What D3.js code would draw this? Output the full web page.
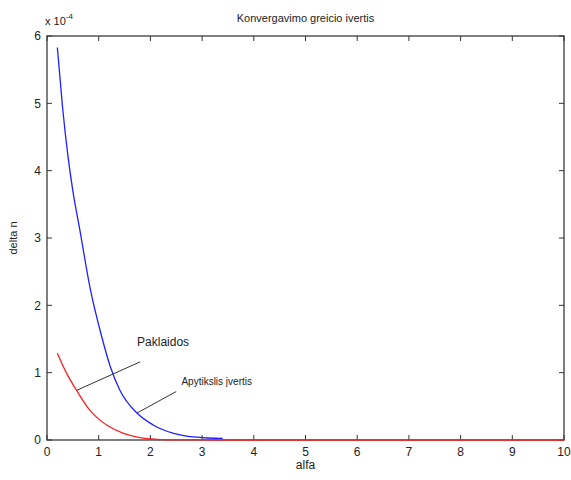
<!DOCTYPE html>
<html>
<head>
<meta charset="utf-8">
<script src="https://cdn.jsdelivr.net/npm/d3@7"></script>
<style>
  body { margin: 0; background: #fff; }
  text { font-family: "Liberation Sans", Arial, sans-serif; fill: #222; }
</style>
</head>
<body>
<div id="chart"></div>
<script>
// values (y in units of 1e-4)
const alfaBlue = [0.2, 0.3, 0.4, 0.5, 0.64, 0.83, 1.06, 1.22, 1.41, 1.74, 2.06, 2.45, 2.84, 3.1, 3.4];
const apytikslis = [5.83, 4.95, 4.25, 3.7, 3.1, 2.27, 1.53, 1.1, 0.74, 0.40, 0.22, 0.10, 0.045, 0.03, 0.025];
const alfaRed = [0.2, 0.38, 0.57, 0.83, 1.0, 1.16, 1.48, 1.8, 2.0, 2.2, 2.5, 3, 4, 5, 6, 7, 8, 9, 10];
const paklaidos = [1.29, 0.99, 0.74, 0.44, 0.31, 0.22, 0.10, 0.035, 0.015, 0.006, 0.002, 0.001, 0, 0, 0, 0, 0, 0, 0];
const xTicks = [0, 1, 2, 3, 4, 5, 6, 7, 8, 9, 10];
const yTicks = [0, 1, 2, 3, 4, 5, 6];

const width = 571, height = 480;
const margin = { top: 36, right: 7, bottom: 40, left: 47 };

const svg = d3.select('#chart').append('svg')
    .attr('width', width)
    .attr('height', height);

const x = d3.scaleLinear().domain([0, 10]).range([margin.left, width - margin.right]);
const y = d3.scaleLinear().domain([0, 6]).range([height - margin.bottom, margin.top]);

// plot box
svg.append('rect')
    .attr('x', x(0)).attr('y', y(6))
    .attr('width', x(10) - x(0)).attr('height', y(0) - y(6))
    .style('fill', 'none').style('stroke', '#555').style('stroke-width', 1.5);

// ticks pointing inward on all sides
const tickLen = 5;
xTicks.forEach(t => {
    svg.append('line').attr('x1', x(t)).attr('x2', x(t))
        .attr('y1', y(0)).attr('y2', y(0) - tickLen)
        .style('stroke', '#333');
    svg.append('line').attr('x1', x(t)).attr('x2', x(t))
        .attr('y1', y(6)).attr('y2', y(6) + tickLen)
        .style('stroke', '#333');
    svg.append('text')
        .attr('x', x(t)).attr('y', y(0) + 16)
        .attr('text-anchor', 'middle')
        .style('font-size', '12px')
        .text(t);
});
yTicks.forEach(t => {
    svg.append('line').attr('x1', x(0)).attr('x2', x(0) + tickLen)
        .attr('y1', y(t)).attr('y2', y(t))
        .style('stroke', '#333');
    svg.append('line').attr('x1', x(10)).attr('x2', x(10) - tickLen)
        .attr('y1', y(t)).attr('y2', y(t))
        .style('stroke', '#333');
    svg.append('text')
        .attr('x', x(0) - 6).attr('y', y(t))
        .attr('dy', '0.35em')
        .attr('text-anchor', 'end')
        .style('font-size', '12px')
        .text(t);
});

// exponent label
const expo = svg.append('text')
    .attr('x', x(0) - 2).attr('y', y(6) - 11)
    .style('font-size', '11px');
expo.append('tspan').text('x 10');
expo.append('tspan').attr('dy', -6).style('font-size', '8px').text('-4');

// title and axis labels
svg.append('text')
    .attr('x', (x(0) + x(10)) / 2).attr('y', 22)
    .attr('text-anchor', 'middle')
    .style('font-size', '11px')
    .text('Konvergavimo greicio ivertis');

svg.append('text')
    .attr('x', (x(0) + x(10)) / 2).attr('y', 469)
    .attr('text-anchor', 'middle')
    .style('font-size', '12px')
    .text('alfa');

svg.append('text')
    .attr('transform', `translate(17, ${(y(0) + y(6)) / 2}) rotate(-90)`)
    .attr('text-anchor', 'middle')
    .style('font-size', '11px')
    .text('delta n');

// curves
const line = d3.line().curve(d3.curveMonotoneX).x(d => x(d[0])).y(d => y(d[1]));

svg.append('path')
    .datum(alfaRed.map((a, i) => [a, paklaidos[i]]))
    .attr('d', line)
    .style('fill', 'none').style('stroke', '#ff2020').style('stroke-width', 1.3);

svg.append('path')
    .datum(alfaBlue.map((a, i) => [a, apytikslis[i]]))
    .attr('d', line)
    .style('fill', 'none').style('stroke', '#2020ff').style('stroke-width', 1.3);

// annotations
svg.append('line')
    .attr('x1', x(0.58)).attr('y1', y(0.74))
    .attr('x2', x(1.8)).attr('y2', y(1.16))
    .style('stroke', '#333').style('stroke-width', 1);
svg.append('text')
    .attr('x', x(1.8) - 3).attr('y', y(1.4))
    .style('font-size', '12px')
    .text('Paklaidos');

svg.append('line')
    .attr('x1', x(1.74)).attr('y1', y(0.40))
    .attr('x2', x(2.5)).attr('y2', y(0.72))
    .style('stroke', '#333').style('stroke-width', 1);
svg.append('text')
    .attr('x', x(2.6)).attr('y', y(0.82))
    .style('font-size', '10px')
    .text('Apytikslis įvertis');
</script>
</body>
</html>
